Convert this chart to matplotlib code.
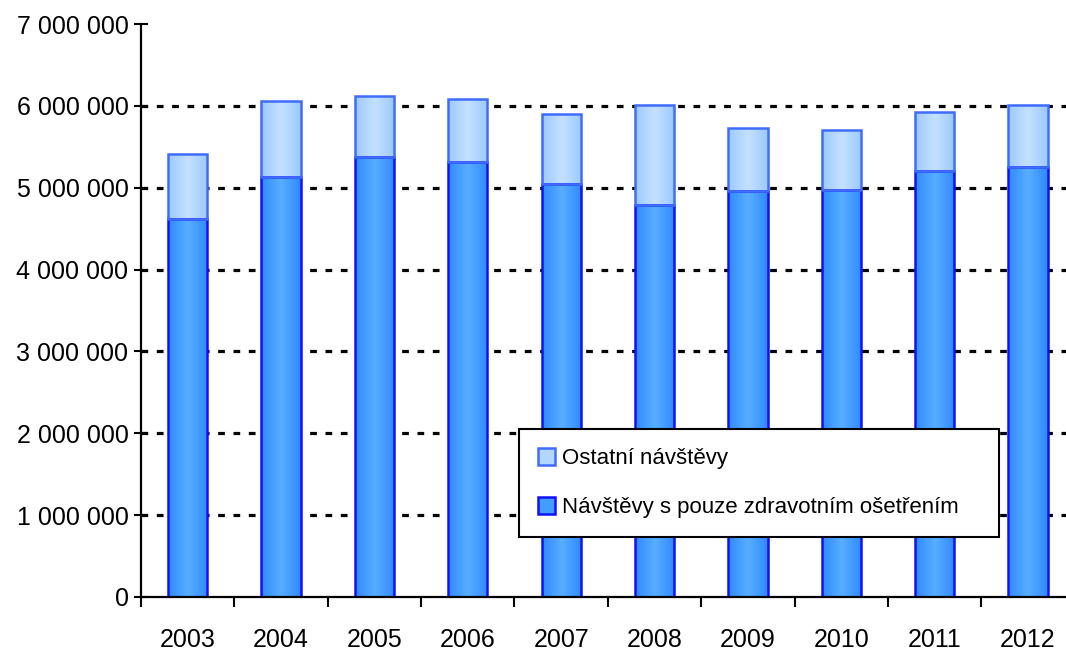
import matplotlib
matplotlib.use("Agg")
import numpy as np
import matplotlib.pyplot as plt
from matplotlib.colors import LinearSegmentedColormap
from matplotlib.ticker import FuncFormatter, MultipleLocator

plt.rcParams["font.family"] = ["Liberation Sans", "DejaVu Sans"]

years = ["2003", "2004", "2005", "2006", "2007", "2008", "2009", "2010", "2011", "2012"]
# visits with only medical treatment (lower part)
treatment = [4620000, 5130000, 5370000, 5320000, 5040000, 4790000, 4960000, 4970000, 5205000, 5250000]
# total visits (top of stacked bar)
total = [5410000, 6060000, 6125000, 6080000, 5900000, 6010000, 5730000, 5710000, 5920000, 6010000]
other = [t - s for t, s in zip(total, treatment)]

fig = plt.figure(figsize=(10.66, 6.52), dpi=100)
ax = fig.add_axes([141 / 1066, 1 - 597 / 652, 933.7 / 1066, 573 / 652])

x = np.arange(len(years))
low = ax.bar(x, treatment, width=0.42, color="#419dff", edgecolor="#1010ff", linewidth=1.8,
             label="Návštěvy s pouze zdravotním ošetřením", zorder=3)
up = ax.bar(x, other, bottom=treatment, width=0.42, color="#b3d6ff", edgecolor="#3f6cff",
            linewidth=1.8, label="Ostatní návštěvy", zorder=3)

# horizontal gradient inside bars (darker edges, lighter middle)
grad = np.abs(np.linspace(-1, 1, 64))[None, :]
cm_low = LinearSegmentedColormap.from_list("low", ["#58adff", "#2f8aff"])
cm_up = LinearSegmentedColormap.from_list("up", ["#c4e0ff", "#9ccaff"])
for bars, cm in [(low, cm_low), (up, cm_up)]:
    for b in bars:
        x0, y0 = b.get_x(), b.get_y()
        im = ax.imshow(grad, cmap=cm, aspect="auto", zorder=3.1,
                       extent=[x0, x0 + b.get_width(), y0, y0 + b.get_height()])
        im.set_clip_path(b)
        b.set_facecolor("none")
        b.set_zorder(3.2)

ax.set_xlim(-0.5, len(years) - 0.5)
ax.set_ylim(0, 7000000)
ax.yaxis.set_major_locator(MultipleLocator(1000000))
ax.yaxis.set_major_formatter(FuncFormatter(lambda v, p: f"{int(v):,}".replace(",", " ")))
ax.set_xticks(x)
ax.set_xticklabels(years)
ax.set_xticks([i - 0.5 for i in range(len(years) + 1)], minor=True)
ax.tick_params(axis="x", which="major", length=0, pad=22, labelsize=18)
ax.tick_params(axis="x", which="minor", length=7, width=1.5, direction="out")
ax.tick_params(axis="y", length=10, width=1.5, direction="inout", labelsize=18, pad=4)

# dotted gridlines, none at the top limit
for yv in range(1000000, 7000000, 1000000):
    ax.axhline(yv, color="black", linestyle=(0, (2.1, 2.7)), linewidth=2.3, zorder=1)

for s in ["top", "right"]:
    ax.spines[s].set_visible(False)
for s in ["left", "bottom"]:
    ax.spines[s].set_linewidth(1.6)
    ax.spines[s].set_zorder(4)

h, l = ax.get_legend_handles_labels()
leg = ax.legend(h[::-1], l[::-1], loc="lower left", bbox_to_anchor=(0.405, 0.1047, 0.514, 0.187),
                mode="expand", borderaxespad=0, fontsize=16, handlelength=0.75, handleheight=0.75,
                handletextpad=0.35, labelspacing=1.25, borderpad=0.85,
                fancybox=False, framealpha=1, edgecolor="black")
leg.get_frame().set_linewidth(1.5)
leg.set_zorder(5)
# legend swatches in the flat colours
leg.legend_handles[0].set_facecolor("#b3d6ff")
leg.legend_handles[1].set_facecolor("#419dff")

fig.savefig("out.png", dpi=100)
